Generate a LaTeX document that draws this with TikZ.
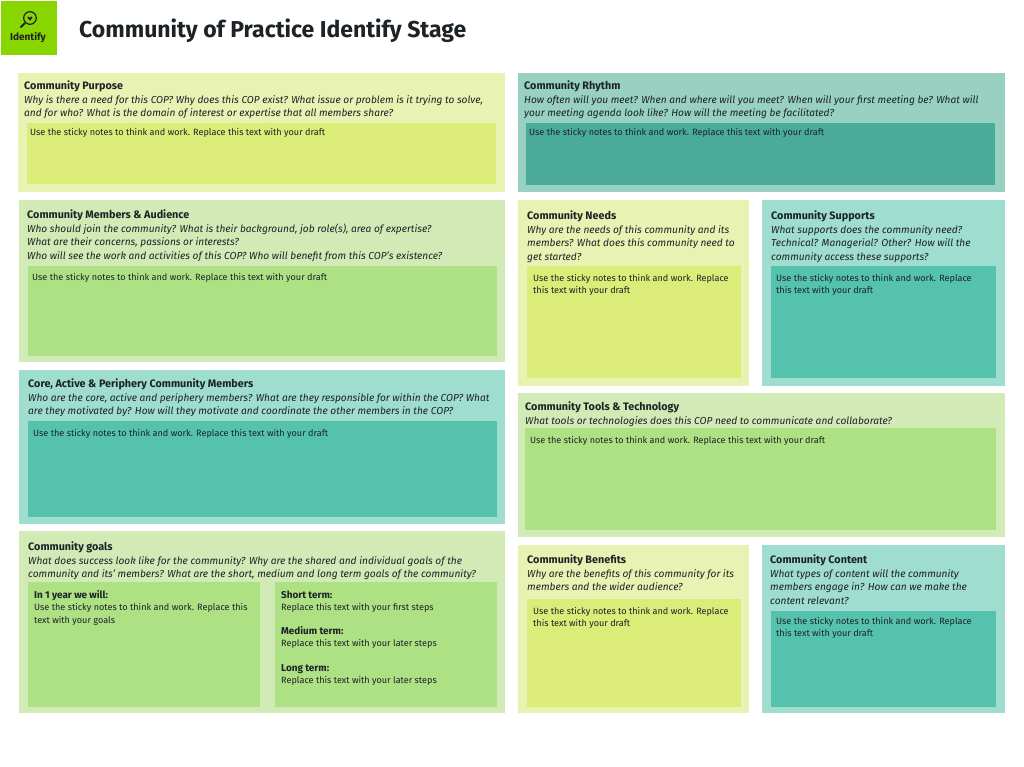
\documentclass[tikz,border=0pt]{standalone}
\usepackage{fontspec}
\setmainfont{Fira Sans}
\definecolor{limepale}{HTML}{E8F2B2}
\definecolor{limenote}{HTML}{DBEC78}
\definecolor{greenpale}{HTML}{D2EBB6}
\definecolor{greennote}{HTML}{AEE084}
\definecolor{tealpale}{HTML}{9FDDCF}
\definecolor{tealnote}{HTML}{55C2AD}
\definecolor{rhythmpale}{HTML}{98D1C2}
\definecolor{rhythmnote}{HTML}{4AAB99}
\definecolor{logogreen}{HTML}{88D500}
\definecolor{inkdark}{HTML}{1C2226}
\tikzstyle{panel}=[draw=none, inner sep=0pt, anchor=north west]
\tikzstyle{words}=[inner sep=0pt, anchor=north west, align=left, text=inkdark, font=\fontsize{10.15}{13.5}\selectfont]
\tikzstyle{notewords}=[words, font=\fontsize{9.1}{12.2}\selectfont]
\newcommand{\panel}{\node[panel]}
\newcommand{\words}{\node[words]}
\newcommand{\notewords}{\node[notewords]}
\newcommand{\head}[1]{{\fontsize{10.8}{13.5}\selectfont\bfseries #1}}
\newcommand{\subhead}[1]{{\fontsize{9.9}{12.2}\selectfont\bfseries #1}}
\newcommand{\stickytext}{Use the sticky notes to think and work. Replace this text with your draft}
\newcommand{\stickybroken}{Use the sticky notes to think and work. Replace\\this text with your draft}
\begin{document}
\begin{tikzpicture}[x=1pt,y=-1pt]
    \useasboundingbox (0,0) rectangle (1024,767);
    % logo and title
    \panel[fill=logogreen, minimum width=56pt, minimum height=54pt] (logo) at (1,1){};
    \node[inner sep=0pt, text=inkdark, font=\fontsize{10}{11}\selectfont\bfseries] (logotext) at (28,38){Identify};
    \draw[inkdark, line width=1.2pt] (30,18) circle (6.3pt);
    \draw[inkdark, line width=2pt] (25,23) -- (20.5,27.5);
    \fill[inkdark] (30,20.6) -- (27.4,17.8) arc (180:0:1.3pt) arc (180:0:1.3pt) -- cycle;
    \node[inner sep=0pt, anchor=west, text=inkdark, font=\fontsize{23}{26}\selectfont\bfseries] (title) at (79,30.5){Community of Practice Identify Stage};
    % left column
    \panel[fill=limepale, minimum width=487pt, minimum height=119pt] (purpose) at (18,73){};
    \panel[fill=limenote, minimum width=469pt, minimum height=61pt] (purposenote) at (27,123){};
    \words (purposetext) at (24,81){\head{Community Purpose}\\\textit{Why is there a need for this COP? Why does this COP exist? What issue or problem is it trying to solve,}\\\textit{and for who? What is the domain of interest or expertise that all members share?}};
    \notewords (purposesticky) at (30,128){\stickytext};
    \panel[fill=greenpale, minimum width=486pt, minimum height=162pt] (members) at (19,200){};
    \panel[fill=greennote, minimum width=469pt, minimum height=90pt] (membersnote) at (28,266){};
    \words (memberstext) at (27,210){\head{Community Members \& Audience}\\\textit{Who should join the community? What is their background, job role(s), area of expertise?}\\\textit{What are their concerns, passions or interests?}\\\textit{Who will see the work and activities of this COP? Who will benefit from this COP's existence?}};
    \notewords (memberssticky) at (32,273){\stickytext};
    \panel[fill=tealpale, minimum width=486pt, minimum height=154pt] (core) at (19,370){};
    \panel[fill=tealnote, minimum width=469pt, minimum height=96pt] (corenote) at (28,421){};
    \words (coretext) at (28,379){\head{Core, Active \& Periphery Community Members}\\\textit{Who are the core, active and periphery members? What are they responsible for within the COP? What}\\\textit{are they motivated by? How will they motivate and coordinate the other members in the COP?}};
    \notewords (coresticky) at (33,429){\stickytext};
    \panel[fill=greenpale, minimum width=486pt, minimum height=182pt] (goals) at (19,531){};
    \panel[fill=greennote, minimum width=232pt, minimum height=125pt] (yearnote) at (28,582){};
    \panel[fill=greennote, minimum width=222pt, minimum height=125pt] (termnote) at (275,582){};
    \words (goalstext) at (28,542){\head{Community goals}\\\textit{What does success look like for the community? Why are the shared and individual goals of the}\\\textit{community and its' members? What are the short, medium and long term goals of the community?}};
    \notewords (yearsticky) at (34,590.5){\subhead{In 1 year we will:}\\Use the sticky notes to think and work. Replace this\\text with your goals};
    \notewords (termsticky) at (281,590.5){\subhead{Short term:}\\Replace this text with your first steps\\[12pt]\subhead{Medium term:}\\Replace this text with your later steps\\[12pt]\subhead{Long term:}\\Replace this text with your later steps};
    % right column
    \panel[fill=rhythmpale, minimum width=487pt, minimum height=119pt] (rhythm) at (518,73){};
    \panel[fill=rhythmnote, minimum width=469pt, minimum height=62pt] (rhythmnote) at (526,123){};
    \words (rhythmtext) at (524,81){\head{Community Rhythm}\\\textit{How often will you meet? When and where will you meet? When will your first meeting be? What will}\\\textit{your meeting agenda look like? How will the meeting be facilitated?}};
    \notewords (rhythmsticky) at (529,128){\stickytext};
    \panel[fill=limepale, minimum width=231pt, minimum height=186pt] (needs) at (518,200){};
    \panel[fill=limenote, minimum width=214pt, minimum height=112pt] (needsnote) at (527,266){};
    \words (needstext) at (527,211){\head{Community Needs}\\\textit{Why are the needs of this community and its}\\\textit{members? What does this community need to}\\\textit{get started?}};
    \notewords (needssticky) at (533,274){\stickybroken};
    \panel[fill=tealpale, minimum width=243pt, minimum height=186pt] (supports) at (762,200){};
    \panel[fill=tealnote, minimum width=225pt, minimum height=112pt] (supportsnote) at (771,266){};
    \words (supportstext) at (771,211){\head{Community Supports}\\\textit{What supports does the community need?}\\\textit{Technical? Managerial? Other? How will the}\\\textit{community access these supports?}};
    \notewords (supportssticky) at (776,274){\stickybroken};
    \panel[fill=greenpale, minimum width=487pt, minimum height=144pt] (tools) at (518,393){};
    \panel[fill=greennote, minimum width=471pt, minimum height=102pt] (toolsnote) at (525,428){};
    \words (toolstext) at (525,402){\head{Community Tools \& Technology}\\\textit{What tools or technologies does this COP need to communicate and collaborate?}};
    \notewords (toolssticky) at (530,436){\stickytext};
    \panel[fill=limepale, minimum width=231pt, minimum height=168pt] (benefits) at (518,545){};
    \panel[fill=limenote, minimum width=214pt, minimum height=108pt] (benefitsnote) at (527,599){};
    \words (benefitstext) at (527,555){\head{Community Benefits}\\\textit{Why are the benefits of this community for its}\\\textit{members and the wider audience?}};
    \notewords (benefitssticky) at (533,607){\stickybroken};
    \panel[fill=tealpale, minimum width=243pt, minimum height=168pt] (content) at (762,545){};
    \panel[fill=tealnote, minimum width=225pt, minimum height=96pt] (contentnote) at (771,611){};
    \words (contenttext) at (770,555){\head{Community Content}\\\textit{What types of content will the community}\\\textit{members engage in? How can we make the}\\\textit{content relevant?}};
    \notewords (contentsticky) at (776,617){\stickybroken};
\end{tikzpicture}
\end{document}
